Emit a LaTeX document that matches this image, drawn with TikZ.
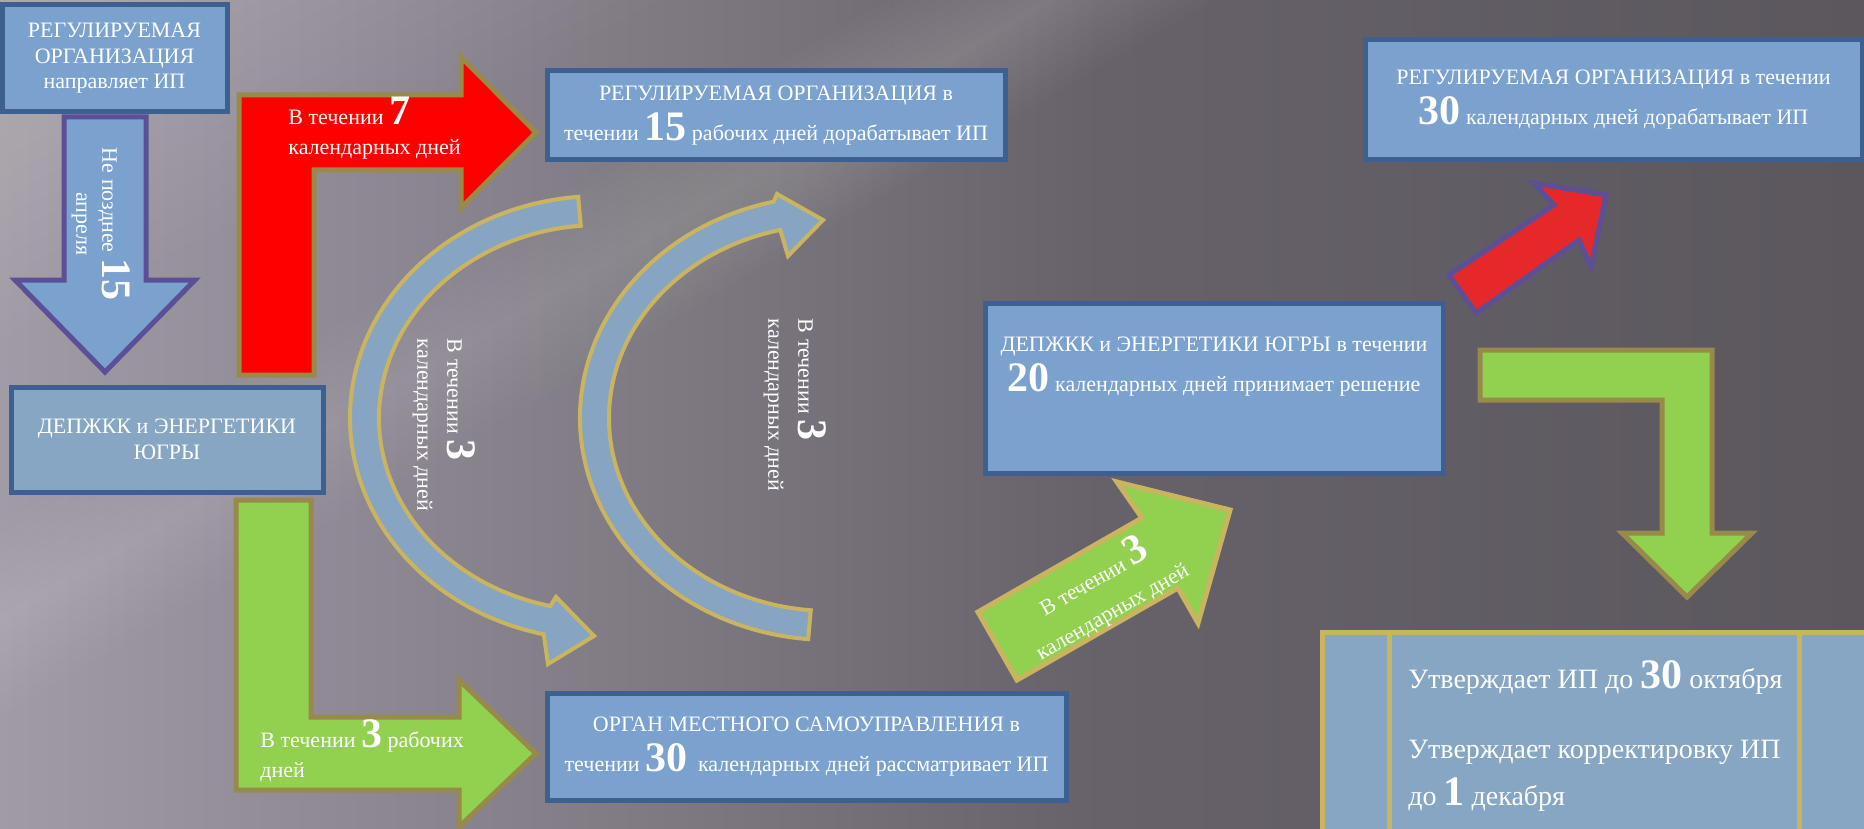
\documentclass[tikz,border=0pt]{standalone}
\usepackage{fontspec}
\setmainfont{Liberation Serif}
\usepackage{tikz}
\usetikzlibrary{shapes,arrows,calc}
\definecolor{boxblue}{HTML}{7BA1CE}
\definecolor{boxgrey}{HTML}{87A6C3}
\definecolor{boxline}{HTML}{3D6091}
\definecolor{olivel}{HTML}{988A4A}
\definecolor{goldl}{HTML}{C9B460}
\definecolor{purpl}{HTML}{5B4F98}
\definecolor{limeg}{HTML}{92D050}
\definecolor{redd}{HTML}{E5292A}
\definecolor{arcblue}{HTML}{87A5C2}
\definecolor{bgl}{HTML}{A19BA6}
\definecolor{bgd}{HTML}{67626A}
\definecolor{bgr}{HTML}{5B575D}
\newcommand{\bignum}[1]{{\fontsize{21}{21}\selectfont\bfseries #1}}
\tikzstyle{block} = [rectangle, draw=boxline, line width=2.5pt, fill=boxblue, text=white, align=center, inner sep=0pt, font=\fontsize{11}{20}\selectfont]
\tikzstyle{greyblock} = [block, fill=boxgrey, font=\fontsize{11}{12.75}\selectfont]
\tikzstyle{arrtext} = [text=white, inner sep=0pt, font=\fontsize{11}{15}\selectfont]
\tikzstyle{redarr} = [fill=red, draw=olivel, line width=2.5pt]
\tikzstyle{greenarr} = [fill=limeg, draw=olivel, line width=2.5pt]
\tikzstyle{bluearr} = [fill=boxblue, draw=purpl, line width=2.5pt]
\tikzstyle{curvarr} = [fill=arcblue, draw=goldl, line width=2pt]

\begin{document}
\begin{tikzpicture}[x=0.5pt, y=-0.5pt]
  \useasboundingbox (0,0) rectangle (1864,829);
  \clip (0,0) rectangle (1864,829);
  \shade[left color=bgl, right color=bgd] (0,0) rectangle (1100,829);
  \shade[left color=bgd, right color=bgr] (1099,0) rectangle (1864,829);
  \foreach \d in {5,15,...,95}
    \fill[white, opacity=0.014] (0,{620-\d}) -- ({1050-1.7*\d},0) -- ({1050+1.7*\d},0) -- (0,{620+\d}) -- cycle;
  \foreach \d in {20,40,...,280}
    \fill[white, opacity=0.012] (0,0) -- ({2*\d+100},0) -- (0,{\d+60}) -- cycle;

  \coordinate (lc) at (600,418);
  \coordinate (rc) at (830,418);

  \path [bluearr] (64,117) -- (146,117) -- (146,280) -- (195,280) -- (105,372) -- (15,280) -- (64,280) -- cycle;
  \path [redarr] (239,375) -- (239,95) -- (461,95) -- (461,57) -- (536,132.5) -- (461,208) -- (461,170) -- (314,170) -- (314,375) -- cycle;
  \path [greenarr] (236,500) -- (311,500) -- (311,717) -- (459,717) -- (459,680) -- (536,753.5) -- (459,827) -- (459,790) -- (236,790) -- cycle;
  \path [curvarr] ($(lc)+(265:250 and 222)$) arc[start angle=265, end angle=103, x radius=250, y radius=222]
    -- (548,664) -- (594,636) -- (556,597) -- ($(lc)+(103:221 and 193)$)
    arc[start angle=103, end angle=265, x radius=221, y radius=193] -- cycle;
  \path [curvarr] ($(rc)+(95:221 and 193)$) arc[start angle=95, end angle=257, x radius=221, y radius=193]
    -- (788,256) -- (823,220) -- (777,194) -- ($(rc)+(257:250 and 222)$)
    arc[start angle=257, end angle=95, x radius=250, y radius=222] -- cycle;
  \path [greenarr, draw=goldl] (978,612) -- (1142,518) -- (1117,482) -- (1230,510) -- (1198,623) -- (1178,588) -- (1017,680) -- cycle;
  \path [fill=redd, draw=purpl, line width=2.5pt] (1449,275) -- (1554,205) -- (1534,183) -- (1606,195) -- (1591,267) -- (1579,240) -- (1476,313) -- cycle;
  \path [greenarr] (1480,350) -- (1712,350) -- (1712,533) -- (1752,533) -- (1687,597) -- (1622,533) -- (1662,533) -- (1662,400) -- (1480,400) -- cycle;

  \node [block, font=\fontsize{11}{12.75}\selectfont, minimum width=112.5pt, minimum height=53.5pt] (regorg) at (114.5,58.5) {РЕГУЛИРУЕМАЯ\\ОРГАНИЗАЦИЯ\\направляет ИП};
  \node [greyblock, minimum width=156pt, minimum height=52.5pt] (depA) at (167,439.5) {ДЕПЖКК и ЭНЕРГЕТИКИ\\ЮГРЫ};
  \node [block, minimum width=229pt, minimum height=44.5pt] (dorab15) at (776,115.5) {РЕГУЛИРУЕМАЯ ОРГАНИЗАЦИЯ в\\течении \bignum{15} рабочих дней дорабатывает ИП};
  \node [block, minimum width=259.5pt, minimum height=53.5pt] (oms) at (806.5,746.5) {ОРГАН МЕСТНОГО САМОУПРАВЛЕНИЯ в\\течении \bignum{30}\ \ календарных дней рассматривает ИП};
  \node [block, minimum width=229pt, minimum height=85pt] (dep20) at (1214,388) {ДЕПЖКК и ЭНЕРГЕТИКИ ЮГРЫ в течении\\\bignum{20} календарных дней принимает решение\\[4pt]};
  \node [block, minimum width=248.5pt, minimum height=60pt] (dorab30) at (1613.5,100) {РЕГУЛИРУЕМАЯ ОРГАНИЗАЦИЯ в течении\\\bignum{30} календарных дней дорабатывает ИП};
  \node [block, fill=boxgrey, draw=goldl, minimum width=276pt, minimum height=103pt, anchor=north west] (utv) at (1320,630) {};
  \draw [goldl, line width=2.5pt] (1389,630) -- (1389,835) (1799,630) -- (1799,835);

  \node [arrtext, rotate=-90, align=center, font=\fontsize{11}{13}\selectfont] (aprtext) at (101,224) {Не позднее \bignum{15}\\апреля};
  \node [arrtext, align=left, anchor=west] (t7) at (288,128) {В течении \bignum{7}\\календарных дней};
  \node [arrtext, align=left, anchor=west] (t3rab) at (260,751) {В течении \bignum{3} рабочих\\дней};
  \node [arrtext, align=left, rotate=-90] (t3left) at (444,425) {В течении \bignum{3}\\календарных дней};
  \node [arrtext, align=left, rotate=-90] (t3right) at (795,405) {В течении \bignum{3}\\календарных дней};
  \node [arrtext, align=center, rotate=30, font=\fontsize{11}{18}\selectfont] (t3diag) at (1101,592) {В течении \bignum{3}\\календарных дней};
  \node [arrtext, align=left, anchor=west, font=\fontsize{14}{23.5}\selectfont] (utvtext) at (1408,736) {Утверждает ИП до \bignum{30} октября\\[11.5pt]Утверждает корректировку ИП\\до \bignum{1} декабря};
\end{tikzpicture}
\end{document}
